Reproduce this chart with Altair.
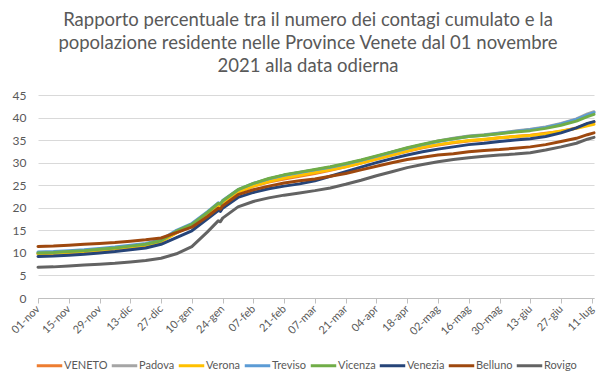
import altair as alt
import pandas as pd

title_lines = [
    "Rapporto percentuale tra il numero dei contagi cumulato e la",
    "popolazione residente nelle Province Venete dal 01 novembre",
    "2021 alla data odierna",
]

dates = [
    "2021-11-01", "2021-11-08", "2021-11-15", "2021-11-22", "2021-11-29",
    "2021-12-06", "2021-12-13", "2021-12-20", "2021-12-27", "2022-01-03",
    "2022-01-10", "2022-01-17", "2022-01-22", "2022-01-23", "2022-01-24",
    "2022-01-31", "2022-02-07", "2022-02-14", "2022-02-21", "2022-02-28",
    "2022-03-07", "2022-03-14", "2022-03-21", "2022-03-28", "2022-04-04",
    "2022-04-11", "2022-04-18", "2022-04-25", "2022-05-02", "2022-05-09",
    "2022-05-16", "2022-05-23", "2022-05-30", "2022-06-06", "2022-06-13",
    "2022-06-20", "2022-06-27", "2022-07-04", "2022-07-09", "2022-07-12",
]

veneto = [9.8, 9.9, 10.1, 10.3, 10.6, 10.9, 11.3, 11.7, 12.5, 14.5,
          16.0, 18.5, 20.5, 20.3, 21.0, 23.5, 24.8, 25.7, 26.4, 27.0,
          27.6, 28.3, 29.1, 29.9, 30.8, 31.7, 32.5, 33.3, 33.9, 34.4,
          34.8, 35.1, 35.5, 35.8, 36.1, 36.5, 36.9, 37.7, 38.6, 39.0]
padova = [9.9, 10.0, 10.2, 10.4, 10.7, 11.0, 11.4, 11.8, 12.6, 14.7,
          16.2, 18.8, 20.9, 20.7, 21.4, 23.9, 25.3, 26.4, 27.2, 27.8,
          28.4, 29.0, 29.7, 30.5, 31.4, 32.3, 33.2, 34.0, 34.8, 35.4,
          35.9, 36.2, 36.6, 37.0, 37.4, 37.9, 38.7, 39.7, 40.8, 41.3]
verona = [9.8, 9.9, 10.1, 10.3, 10.6, 10.9, 11.3, 11.7, 12.5, 14.5,
          16.0, 18.5, 20.5, 20.3, 21.0, 23.5, 24.8, 25.8, 26.6, 27.2,
          27.8, 28.4, 29.1, 29.9, 30.8, 31.7, 32.6, 33.4, 34.0, 34.5,
          34.9, 35.2, 35.5, 35.8, 36.0, 36.4, 37.0, 37.6, 38.2, 38.5]
treviso = [10.2, 10.3, 10.5, 10.7, 11.0, 11.3, 11.7, 12.1, 12.9, 15.0,
           16.5, 19.1, 21.1, 20.9, 21.6, 24.0, 25.4, 26.4, 27.2, 27.8,
           28.4, 29.0, 29.7, 30.5, 31.4, 32.3, 33.2, 34.0, 34.7, 35.3,
           35.8, 36.1, 36.5, 36.9, 37.3, 37.8, 38.6, 39.6, 40.6, 41.1]
vicenza = [10.0, 10.1, 10.3, 10.5, 10.8, 11.1, 11.5, 11.9, 12.7, 14.8,
           16.3, 18.9, 21.0, 20.8, 21.5, 24.0, 25.4, 26.5, 27.3, 27.9,
           28.5, 29.1, 29.8, 30.6, 31.5, 32.4, 33.3, 34.1, 34.8, 35.3,
           35.8, 36.1, 36.4, 36.8, 37.1, 37.6, 38.3, 39.2, 40.2, 40.7]
venezia = [9.2, 9.3, 9.5, 9.7, 10.0, 10.3, 10.7, 11.1, 11.9, 13.4,
           14.9, 17.5, 19.4, 19.2, 19.9, 22.3, 23.4, 24.2, 24.8, 25.3,
           26.0, 27.0, 28.0, 29.0, 30.0, 30.9, 31.7, 32.4, 33.0, 33.5,
           34.0, 34.3, 34.7, 35.0, 35.3, 35.8, 36.6, 37.7, 38.7, 39.1]
belluno = [11.4, 11.5, 11.7, 11.9, 12.1, 12.3, 12.6, 12.9, 13.3, 14.5,
           15.7, 18.0, 19.9, 19.7, 20.4, 22.9, 24.0, 24.8, 25.5, 26.0,
           26.4, 27.0, 27.6, 28.4, 29.2, 30.0, 30.7, 31.2, 31.7, 32.0,
           32.4, 32.7, 32.9, 33.2, 33.5, 34.0, 34.7, 35.4, 36.2, 36.6]
rovigo = [6.8, 6.9, 7.1, 7.3, 7.5, 7.7, 8.0, 8.3, 8.8, 9.8,
          11.4, 14.6, 17.1, 16.9, 17.7, 20.2, 21.4, 22.2, 22.8, 23.3,
          23.8, 24.4, 25.2, 26.1, 27.1, 28.0, 28.9, 29.6, 30.2, 30.7,
          31.1, 31.4, 31.7, 31.9, 32.2, 32.8, 33.5, 34.3, 35.2, 35.6]

series_names = ["VENETO", "Padova", "Verona", "Treviso", "Vicenza", "Venezia", "Belluno", "Rovigo"]
series_values = [veneto, padova, verona, treviso, vicenza, venezia, belluno, rovigo]
series_colors = ["#ED7D31", "#A5A5A5", "#FFC000", "#5B9BD5", "#70AD47", "#264478", "#9E480E", "#636363"]

tick_dates = [
    "2021-11-01", "2021-11-15", "2021-11-29", "2021-12-13", "2021-12-27",
    "2022-01-10", "2022-01-24", "2022-02-07", "2022-02-21", "2022-03-07",
    "2022-03-21", "2022-04-04", "2022-04-18", "2022-05-02", "2022-05-16",
    "2022-05-30", "2022-06-13", "2022-06-27", "2022-07-11",
]
tick_labels = [
    "01-nov", "15-nov", "29-nov", "13-dic", "27-dic", "10-gen", "24-gen",
    "07-feb", "21-feb", "07-mar", "21-mar", "04-apr", "18-apr", "02-mag",
    "16-mag", "30-mag", "13-giu", "27-giu", "11-lug",
]
y_ticks = [0, 5, 10, 15, 20, 25, 30, 35, 40, 45]

rows = []
for order, (name, vals) in enumerate(zip(series_names, series_values)):
    for d, v in zip(dates, vals):
        rows.append({"data": d, "serie": name, "valore": v, "ordine": order})
df = pd.DataFrame(rows)

tick_ms = [int(pd.Timestamp(d).value // 10**6) for d in tick_dates]
domain_end = int(pd.Timestamp("2022-07-12").value // 10**6)
label_expr = "[" + ",".join("'%s'" % t for t in tick_labels) + "][indexof([" + ",".join(str(m) for m in tick_ms) + "], +datum.value)]"

FONT = "Lato"
GREY = "#595959"

chart = alt.Chart(df).mark_line(strokeWidth=3, strokeJoin="round", strokeCap="round").encode(
    x=alt.X(
        "data:T",
        scale=alt.Scale(type="utc", domain=[tick_ms[0], domain_end]),
        axis=alt.Axis(
            title=None, values=tick_ms, labelExpr=label_expr, labelAngle=-45,
            labelAlign="right", labelBaseline="middle", labelOverlap=False,
            grid=False, domainColor="#BFBFBF", tickColor="#BFBFBF", tickSize=5,
            labelFont=FONT, labelFontSize=11, labelColor=GREY, labelPadding=4,
        ),
    ),
    y=alt.Y(
        "valore:Q",
        scale=alt.Scale(domain=[0, 45], nice=False),
        axis=alt.Axis(
            title=None, values=y_ticks, grid=True, gridColor="#D9D9D9", domain=False,
            ticks=False, labelPadding=12, labelFont=FONT, labelFontSize=12, labelColor=GREY,
        ),
    ),
    color=alt.Color(
        "serie:N",
        scale=alt.Scale(domain=series_names, range=series_colors),
        sort=series_names,
        legend=alt.Legend(
            title=None, orient="none", legendX=-3, legendY=256,
            direction="horizontal", columns=8,
            symbolType="stroke", symbolStrokeWidth=3, symbolSize=650,
            labelFont=FONT, labelFontSize=11, labelColor=GREY,
            columnPadding=-3, labelOffset=0,
        ),
    ),
    order=alt.Order("ordine:Q"),
).properties(
    width=556,
    height=203,
    padding={"left": 30, "top": 87, "right": 14, "bottom": 80},
    autosize=alt.AutoSizeParams(type="none"),
    title=alt.TitleParams(
        text=title_lines, font=FONT, fontSize=18.5, fontWeight="normal", color=GREY,
        anchor="middle", frame="group", lineHeight=23, offset=14, dx=-8,
    ),
).configure_view(stroke=None)

chart.save("out.html", embed_options={"renderer": "svg", "actions": False})
